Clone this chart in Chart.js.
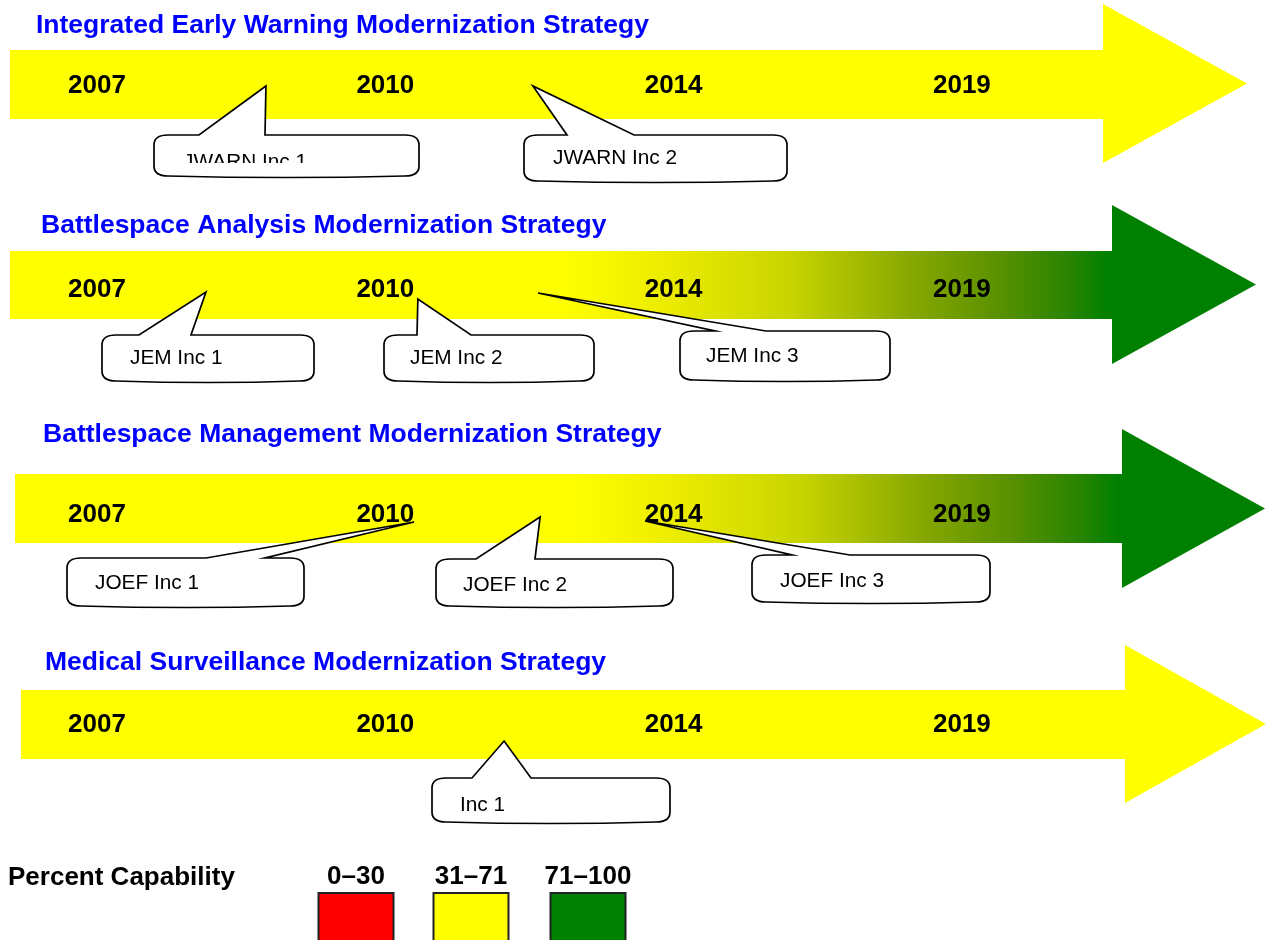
<!DOCTYPE html>
<html><head><meta charset="utf-8">
<script src="https://cdn.jsdelivr.net/npm/chart.js@4.4.1/dist/chart.umd.min.js"></script>
<style>html,body{margin:0;padding:0;background:#fff;font-family:'Liberation Sans',Arial,sans-serif}#wrap{position:relative;width:1265px;height:940px}</style>
</head><body><div id="wrap"><canvas id="c"></canvas></div>
<script>
// ---------- DATA ----------
const years = ['2007', '2010', '2014', '2019'];
const strategies = [
  'Integrated Early Warning Modernization Strategy',
  'Battlespace Analysis Modernization Strategy',
  'Battlespace Management Modernization Strategy',
  'Medical Surveillance Modernization Strategy'
];
const capabilityBands = ['0–30', '31–71', '71–100'];
// band reached at the head of each strategy arrow (index into capabilityBands)
const strategyEndBand = [1, 2, 2, 1];
const incrementNames = [
  ['JWARN Inc 1', 'JWARN Inc 2'],
  ['JEM Inc 1', 'JEM Inc 2', 'JEM Inc 3'],
  ['JOEF Inc 1', 'JOEF Inc 2', 'JOEF Inc 3'],
  ['Inc 1']
];
// timing of each increment along the year axis (0 = 2007, 1 = 2010, 2 = 2014, 3 = 2019)
const incrementTiming = [
  [0.586, 1.512],
  [0.378, 1.113, 1.530],
  [1.100, 1.537, 1.901],
  [1.412]
];

// ---------- STYLE / LAYOUT ----------
const bandColors = ['#ff0000', '#ffff00', '#008000'];
const FONT = "'Liberation Sans', Arial, Helvetica, sans-serif";
const gradStops = [[0, '#ffff00'], [0.2, '#ebeb00'], [0.42, '#c8d400'], [0.64, '#87a800'], [0.8, '#5a9100'], [0.93, '#288400'], [1, '#008000']];
const rows = [
  {titleX: 36, titleBase: 33, yearY: 86, left: 10, top: 50, bottom: 119, headX: 1103, headTop: 4, headBottom: 163, tipX: 1247, gradFrom: 560, gradTo: 1105},
  {titleX: 41, titleBase: 233, yearY: 290, left: 10, top: 251, bottom: 319, headX: 1112, headTop: 205, headBottom: 364, tipX: 1256, gradFrom: 560, gradTo: 1108},
  {titleX: 43, titleBase: 442, yearY: 515, left: 15, top: 474, bottom: 543, headX: 1122, headTop: 429, headBottom: 588, tipX: 1265, gradFrom: 570, gradTo: 1118},
  {titleX: 45, titleBase: 670, yearY: 725, left: 21, top: 690, bottom: 759, headX: 1125, headTop: 645, headBottom: 803, tipX: 1266, gradFrom: 570, gradTo: 1118}
];
// callout boxes: [left, right, top, bottom, baseL, baseR, tipY, textX, textBaseline, clipY]
const callouts = [
  [[154, 419, 135, 176, 199, 265, 86, 183, 168, 163], [524, 787, 135, 181, 567, 634, 86, 553, 164, null]],
  [[102, 314, 335, 381, 139, 191, 292, 130, 364, null], [384, 594, 335, 381, 417, 471, 299, 410, 364, null], [680, 890, 331, 380, 715, 766, 293, 706, 362, null]],
  [[67, 304, 558, 606, 206, 265, 522, 95, 589, null], [436, 673, 559, 606, 476, 535, 517, 463, 591, null], [752, 990, 555, 602, 792, 850, 521, 780, 587, null]],
  [[432, 670, 778, 822, 472, 531, 741, 460, 811, null]]
];
const legendLayout = {titleX: 8, base: 884, centers: [356, 471, 588], boxW: 75, boxTop: 893, boxBottom: 945};

const slot0 = 97, slotStep = 288.3;

// ---------- PLUGIN ----------
const diagram = {
  id: 'diagram',
  afterDraw(chart) {
    const ctx = chart.ctx;
    const xs = chart.scales.x, ys = chart.scales.y;
    const X = v => xs.getPixelForValue(v);
    const Y = v => ys.getPixelForValue(v);
    const PX = p => xs.getPixelForValue((p - slot0) / slotStep);
    ctx.save();

    rows.forEach((r, i) => {
      ctx.beginPath();
      const midY = (r.headTop + r.headBottom) / 2;
      ctx.moveTo(PX(r.left), Y(r.top));
      ctx.lineTo(PX(r.headX), Y(r.top));
      ctx.lineTo(PX(r.headX), Y(r.headTop));
      ctx.lineTo(PX(r.tipX), Y(midY));
      ctx.lineTo(PX(r.headX), Y(r.headBottom));
      ctx.lineTo(PX(r.headX), Y(r.bottom));
      ctx.lineTo(PX(r.left), Y(r.bottom));
      ctx.closePath();
      const endBand = strategyEndBand[i];
      if (endBand === 1) {
        ctx.fillStyle = bandColors[1];
      } else {
        const g = ctx.createLinearGradient(PX(r.gradFrom), 0, PX(r.gradTo), 0);
        gradStops.forEach(s => g.addColorStop(s[0], s[1]));
        ctx.fillStyle = g;
      }
      ctx.fill();

      ctx.fillStyle = '#0000ff';
      ctx.font = 'bold 26.5px ' + FONT;
      ctx.textAlign = 'left';
      ctx.textBaseline = 'alphabetic';
      ctx.fillText(strategies[i], PX(r.titleX), Y(r.titleBase));

      ctx.fillStyle = '#000';
      ctx.font = 'bold 26px ' + FONT;
      ctx.textAlign = 'center';
      ctx.textBaseline = 'middle';
      years.forEach((yr, k) => ctx.fillText(yr, X(k), Y(r.yearY)));
    });

    rows.forEach((r, i) => {
      incrementNames[i].forEach((name, k) => {
        const c = callouts[i][k];
        const L = PX(c[0]), R = PX(c[1]), T = Y(c[2]), B = Y(c[3]);
        const bl = PX(c[4]), br = PX(c[5]);
        const tx = X(incrementTiming[i][k]), ty = Y(c[6]);
        const rx = 14, ry = 10, bow = 3;
        ctx.beginPath();
        ctx.moveTo(L + rx, T);
        ctx.lineTo(bl, T);
        ctx.lineTo(tx, ty);
        ctx.lineTo(br, T);
        ctx.lineTo(R - rx, T);
        ctx.quadraticCurveTo(R, T, R, T + ry);
        ctx.lineTo(R, B - ry);
        ctx.quadraticCurveTo(R, B, R - rx, B);
        ctx.quadraticCurveTo((L + R) / 2, B + bow, L + rx, B);
        ctx.quadraticCurveTo(L, B, L, B - ry);
        ctx.lineTo(L, T + ry);
        ctx.quadraticCurveTo(L, T, L + rx, T);
        ctx.closePath();
        ctx.fillStyle = '#fff';
        ctx.fill();
        ctx.lineWidth = 1.7;
        ctx.strokeStyle = '#000';
        ctx.lineJoin = 'miter';
        ctx.stroke();

        ctx.save();
        if (c[9] !== null) {
          ctx.beginPath();
          ctx.rect(L, T, R - L, Y(c[9]) - T);
          ctx.clip();
        }
        ctx.fillStyle = '#000';
        ctx.font = '20.8px ' + FONT;
        ctx.textAlign = 'left';
        ctx.textBaseline = 'alphabetic';
        ctx.fillText(name, PX(c[7]), Y(c[8]));
        ctx.restore();
      });
    });

    ctx.fillStyle = '#000';
    ctx.font = 'bold 26px ' + FONT;
    ctx.textAlign = 'left';
    ctx.textBaseline = 'alphabetic';
    ctx.fillText('Percent Capability', PX(legendLayout.titleX), Y(legendLayout.base + 1));
    capabilityBands.forEach((b, k) => {
      const cx = PX(legendLayout.centers[k]);
      ctx.textAlign = 'center';
      ctx.fillStyle = '#000';
      ctx.fillText(b, cx, Y(legendLayout.base));
      const w = legendLayout.boxW;
      const top = Y(legendLayout.boxTop), h = Y(legendLayout.boxBottom) - top;
      ctx.fillStyle = bandColors[k];
      ctx.fillRect(cx - w / 2, top, w, h);
      ctx.lineWidth = 2;
      ctx.strokeStyle = '#222';
      ctx.strokeRect(cx - w / 2, top, w, h);
    });
    ctx.restore();
  }
};

const tipPoints = [];
incrementTiming.forEach((arr, i) => arr.forEach((t, k) => tipPoints.push({x: t, y: callouts[i][k][6]})));

function build() {
  new Chart(document.getElementById('c'), {
    type: 'scatter',
    data: {datasets: [{label: 'Increments', data: tipPoints, pointRadius: 0, pointHoverRadius: 0}]},
    options: {
      responsive: true,
      maintainAspectRatio: false,
      animation: false,
      events: [],
      layout: {padding: 0},
      plugins: {legend: {display: false}, tooltip: {enabled: false}},
      scales: {
        x: {type: 'linear', display: false, min: -slot0 / slotStep, max: (1265 - slot0) / slotStep},
        y: {type: 'linear', display: false, reverse: true, min: 0, max: 940}
      }
    },
    plugins: [diagram]
  });
}
if (document.fonts && document.fonts.load) {
  Promise.all([
    document.fonts.load("bold 26px 'Liberation Sans'"),
    document.fonts.load("20px 'Liberation Sans'")
  ]).then(build, build);
} else {
  build();
}
</script>
</body></html>
